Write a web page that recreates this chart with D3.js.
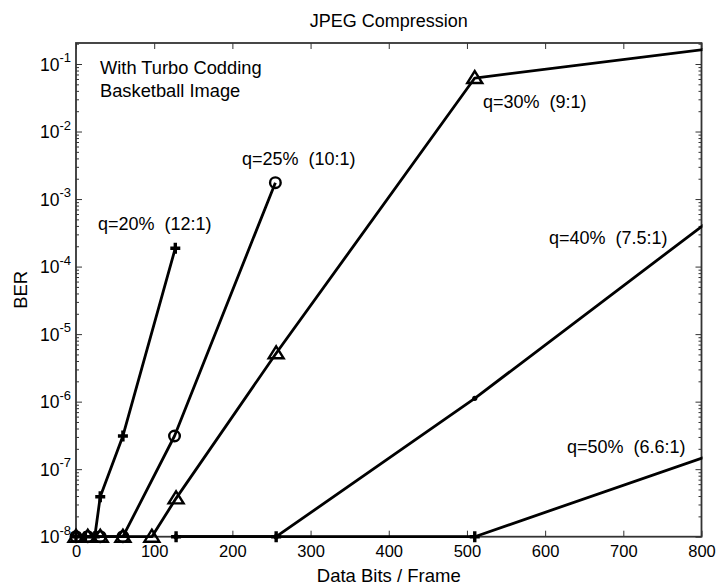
<!DOCTYPE html>
<html>
<head>
<meta charset="utf-8">
<script src="https://cdn.jsdelivr.net/npm/d3@7"></script>
<style>
  body { margin: 0; background: #fff; }
  svg { display: block; }
  text { font-family: "Liberation Sans", Arial, sans-serif; fill: #000; }
</style>
</head>
<body>
<svg id="chart" width="718" height="585"></svg>
<script>
// Axis ticks
const xTicks = [0, 100, 200, 300, 400, 500, 600, 700, 800];
const yExponents = [-8, -7, -6, -5, -4, -3, -2, -1];

// BER vs data bits per frame for each JPEG quality setting (1e-8 = error free floor)
const bitsQ20 = [0, 12, 24, 31, 60, 127];
const berQ20  = [1e-8, 1e-8, 1e-8, 3.9e-8, 3.1e-7, 1.87e-4];

const bitsQ25 = [0, 15, 31, 60, 126, 255];
const berQ25  = [1e-8, 1e-8, 1e-8, 1e-8, 3.1e-7, 1.75e-3];

const bitsQ30 = [0, 15, 31, 60, 97, 128, 256, 510, 1024];
const berQ30  = [1e-8, 1e-8, 1e-8, 1e-8, 1e-8, 3.7e-8, 5.2e-6, 6.2e-2, 0.34];

const bitsQ40 = [128, 256, 510, 1024];
const berQ40  = [1e-8, 1e-8, 1.12e-6, 0.036];

const bitsQ50 = [128, 256, 510, 1024];
const berQ50  = [1e-8, 1e-8, 1e-8, 1.15e-6];

const seriesNames = ["q=20%  (12:1)", "q=25%  (10:1)", "q=30%  (9:1)", "q=40%  (7.5:1)", "q=50%  (6.6:1)"];
const noteLines = ["With Turbo Codding", "Basketball Image"];

const svg = d3.select("#chart");
const axL = 76, axR = 701.5, axT = 43, axB = 536.7;

const x = d3.scaleLinear().domain([0, 800]).range([axL, axR]);
const y = d3.scaleLog().domain([1e-8, Math.pow(10, -0.689)]).range([axB, axT]);

// clip data on the right/top edges only so floor markers stay whole
svg.append("defs").append("clipPath").attr("id", "plotClip")
  .append("rect").attr("x", 0).attr("y", axT).attr("width", axR + 1).attr("height", 585 - axT);

// x ticks (inward) bottom and top
const xAxisB = svg.append("g").attr("transform", `translate(0,${axB})`)
  .call(d3.axisBottom(x).tickValues(xTicks).tickSize(-6).tickPadding(9).tickFormat(d3.format("d")));
xAxisB.select(".domain").remove();
xAxisB.selectAll("line").attr("stroke", "#333");
xAxisB.selectAll("text").attr("font-size", 16.5).attr("font-family", "Liberation Sans, Arial, sans-serif").attr("fill", "#000");

const xAxisT = svg.append("g").attr("transform", `translate(0,${axT})`)
  .call(d3.axisTop(x).tickValues(xTicks).tickSize(-6).tickFormat(""));
xAxisT.select(".domain").remove();
xAxisT.selectAll("line").attr("stroke", "#333");

// y log ticks: majors and minors, both sides
const yMajors = yExponents.map(e => Math.pow(10, e));
const yMinors = [];
yExponents.forEach(e => { for (let m = 2; m <= 9; m++) { const v = m * Math.pow(10, e); if (v <= y.domain()[1]) yMinors.push(v); } });

function yTicks(axisFn, pos, vals, len) {
  const g = svg.append("g").attr("transform", `translate(${pos},0)`)
    .call(axisFn(y).tickValues(vals).tickSize(-len).tickFormat(""));
  g.select(".domain").remove();
  g.selectAll("line").attr("stroke", "#333");
}
yTicks(d3.axisLeft, axL, yMajors, 6);
yTicks(d3.axisLeft, axL, yMinors, 3);
yTicks(d3.axisRight, axR, yMajors, 6);
yTicks(d3.axisRight, axR, yMinors, 3);

// y tick labels 10^e
const yLab = svg.append("g");
yExponents.forEach(e => {
  const t = yLab.append("text").attr("x", 71).attr("y", y(Math.pow(10, e)) + 6.5)
    .attr("text-anchor", "end").attr("font-size", 17.5);
  t.append("tspan").text("10");
  t.append("tspan").attr("dy", -8.5).attr("font-size", 13).text(String(e));
});

// frame
svg.append("rect").attr("x", axL).attr("y", axT).attr("width", axR - axL).attr("height", axB - axT)
  .attr("fill", "none").attr("stroke", "#333").attr("stroke-width", 1.8);

// series
const plot = svg.append("g").attr("clip-path", "url(#plotClip)");
const line = d3.line().x(d => x(d[0])).y(d => y(d[1]));

const series = [
  { bits: bitsQ20, ber: berQ20, marker: "plus" },
  { bits: bitsQ25, ber: berQ25, marker: "circle" },
  { bits: bitsQ30, ber: berQ30, marker: "triangle" },
  { bits: bitsQ40, ber: berQ40, marker: "dot" },
  { bits: bitsQ50, ber: berQ50, marker: "plus" }
];

series.forEach(s => {
  const pts = s.bits.map((b, i) => [b, s.ber[i]]);
  plot.append("path").datum(pts).attr("d", line)
    .attr("fill", "none").attr("stroke", "#000").attr("stroke-width", 2.8)
    .attr("stroke-linejoin", "round");
});

series.forEach(s => {
  const pts = s.bits.map((b, i) => [b, s.ber[i]]).filter(p => p[0] <= 800);
  const g = plot.append("g");
  pts.forEach(p => {
    const cx = x(p[0]), cy = y(p[1]);
    if (s.marker === "circle") {
      g.append("circle").attr("cx", cx).attr("cy", cy).attr("r", 5.3)
        .attr("fill", "none").attr("stroke", "#000").attr("stroke-width", 2.4);
    } else if (s.marker === "triangle") {
      g.append("path").attr("d", `M${cx},${cy - 7} L${cx + 7.5},${cy + 5} L${cx - 7.5},${cy + 5} Z`)
        .attr("fill", "none").attr("stroke", "#000").attr("stroke-width", 2.4).attr("stroke-linejoin", "miter");
    } else if (s.marker === "plus") {
      g.append("path").attr("d", `M${cx - 5},${cy} L${cx + 5},${cy} M${cx},${cy - 5.5} L${cx},${cy + 5.5}`)
        .attr("stroke", "#000").attr("stroke-width", 3.4);
    } else if (s.marker === "dot") {
      g.append("circle").attr("cx", cx).attr("cy", cy).attr("r", 2.6).attr("fill", "#000");
    }
  });
});

// series annotations
const labelPos = [[98, 230], [242, 165], [483, 108], [549, 244], [567, 453]];
seriesNames.forEach((n, i) => {
  svg.append("text").attr("x", labelPos[i][0]).attr("y", labelPos[i][1])
    .attr("font-size", 18).style("white-space", "pre").text(n);
});

noteLines.forEach((n, i) => {
  svg.append("text").attr("x", 100).attr("y", 74 + i * 23).attr("font-size", 18.3).text(n);
});

// title and axis labels
svg.append("text").attr("x", (axL + axR) / 2).attr("y", 27).attr("text-anchor", "middle")
  .attr("font-size", 18).text("JPEG Compression");
svg.append("text").attr("x", (axL + axR) / 2).attr("y", 582).attr("text-anchor", "middle")
  .attr("font-size", 18.5).text("Data Bits / Frame");
svg.append("text").attr("transform", `translate(27,${(axT + axB) / 2}) rotate(-90)`)
  .attr("text-anchor", "middle").attr("font-size", 18.5).text("BER");
</script>
</body>
</html>
